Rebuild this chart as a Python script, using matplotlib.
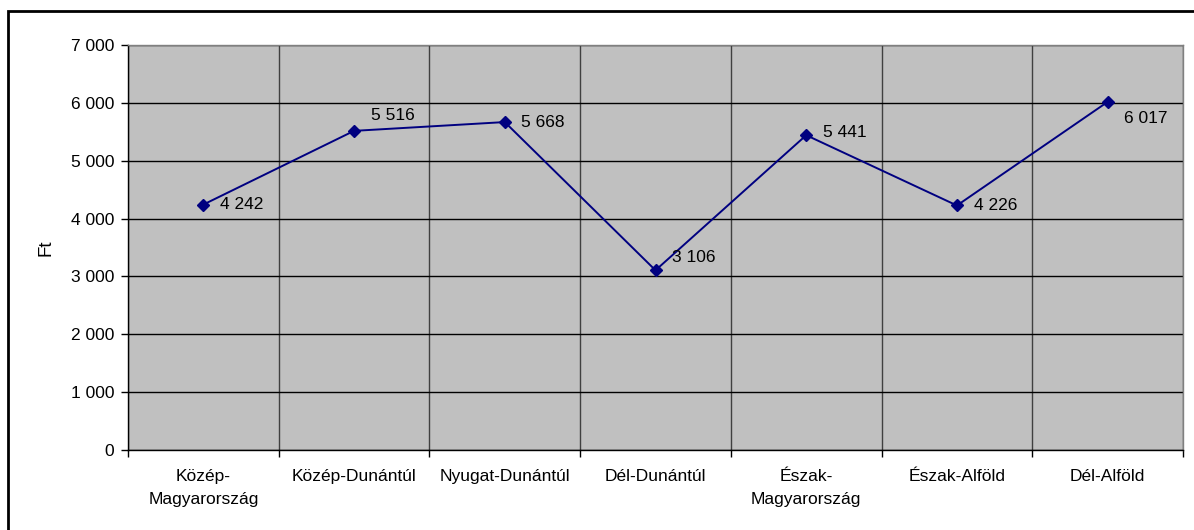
import matplotlib.pyplot as plt
from matplotlib.patches import Rectangle
from matplotlib.ticker import FixedLocator, FuncFormatter

plt.rcParams['font.family'] = ['Liberation Sans', 'DejaVu Sans']

regions = ['Közép-\nMagyarország', 'Közép-Dunántúl', 'Nyugat-Dunántúl', 'Dél-Dunántúl',
           'Észak-\nMagyarország', 'Észak-Alföld', 'Dél-Alföld']
values = [4242, 5516, 5668, 3106, 5441, 4226, 6017]
# label offsets in points (dx, dy)
label_offsets = [(12, 0), (12, 11), (12, 0), (12, 9), (12, 2), (12, 0), (12, -12)]

FS = 12.5


def hu_thousands(v, pos=None):
    return f'{int(round(v)):,}'.replace(',', ' ')


fig = plt.figure(figsize=(11.94, 5.30), dpi=100)
ax = fig.add_axes([128 / 1194, 1 - 450 / 530, (1183 - 128) / 1194, (450 - 45) / 530])

# outer chart frame (runs off the right and bottom edge)
fig.patches.append(Rectangle((8 / 1194, -0.05), 1.2, 1 - 11 / 530 + 0.05,
                             transform=fig.transFigure, fill=False,
                             edgecolor='black', linewidth=2, zorder=0))

ax.set_facecolor('#c0c0c0')
x = list(range(len(values)))
ax.plot(x, values, color='#000080', linewidth=1.4, marker='D', markersize=6,
        markerfacecolor='#000080', markeredgecolor='#000080', zorder=3)

for xi, v, (dx, dy) in zip(x, values, label_offsets):
    ax.annotate(hu_thousands(v), (xi, v), xytext=(dx, dy), textcoords='offset points',
                ha='left', va='center', fontsize=FS, color='black', zorder=4)

ax.set_xlim(-0.5, len(values) - 0.5)
ax.set_ylim(0, 7000)

ax.yaxis.set_major_locator(FixedLocator(range(0, 7001, 1000)))
ax.yaxis.set_major_formatter(FuncFormatter(hu_thousands))
ax.yaxis.grid(True, color='black', linewidth=1)

# category boundaries as major ticks, names on minor ticks
ax.xaxis.set_major_locator(FixedLocator([i - 0.5 for i in range(len(values) + 1)]))
ax.xaxis.set_major_formatter(FuncFormatter(lambda v, p: ''))
ax.xaxis.set_minor_locator(FixedLocator(x))
ax.set_xticklabels(regions, minor=True)
ax.xaxis.grid(True, which='major', color='#404040', linewidth=1)
ax.set_axisbelow(True)

ax.tick_params(axis='both', which='major', direction='out', length=5, width=1,
               labelsize=FS, color='black')
ax.tick_params(axis='x', which='minor', length=0, labelsize=FS, pad=14)
ax.tick_params(axis='y', pad=5)

for lbl in ax.get_xticklabels(minor=True):
    lbl.set_linespacing(1.65)
    lbl.set_va('top')

ax.spines['left'].set_color('black')
ax.spines['bottom'].set_color('black')
ax.spines['top'].set_color('#808080')
ax.spines['right'].set_color('#808080')
for s in ax.spines.values():
    s.set_linewidth(1)

ax.set_ylabel('Ft', fontsize=13.5)
ax.yaxis.set_label_coords(-74 / 1055, 0.5)

fig.savefig('out.png', dpi=100, facecolor='white')
